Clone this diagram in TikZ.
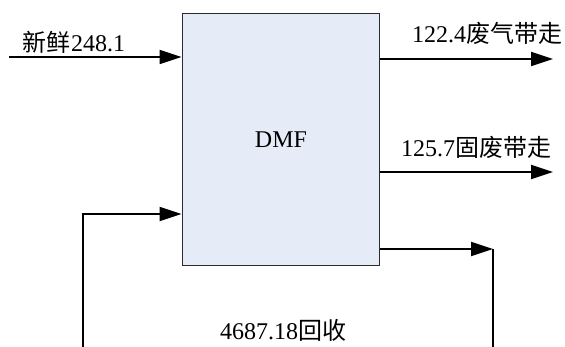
\documentclass[tikz,border=0pt]{standalone}
\usepackage{fontspec}
\setmainfont{Liberation Serif}
\newfontfamily\cjk{Noto Sans CJK SC}
\usetikzlibrary{arrows.meta,positioning}
\definecolor{boxfill}{HTML}{E6ECF7}
\definecolor{boxline}{HTML}{2B2B2B}

\tikzset{
  flow/.style={line width=1.8pt, -{Triangle[length=22pt,width=14pt]}},
  plain/.style={line width=1.8pt},
  lbl/.style={font=\fontsize{24}{28}\selectfont, inner sep=0pt},
}

\begin{document}
\begin{tikzpicture}[x=1pt, y=-1pt]
\useasboundingbox (0,0) rectangle (565,347);

% DMF unit
\node[draw=boxline, line width=1.8pt, fill=boxfill, minimum width=197pt,
  minimum height=252pt, inner sep=0pt, font=\fontsize{24}{28}\selectfont]
  (dmf) at (281,139.5) {DMF};

% stream end points
\coordinate (feed)      at (9,57);
\coordinate (gas)       at (553,59);
\coordinate (solid)     at (553,172);
\coordinate (loopout)   at (493,249);
\coordinate (loopin)    at (83,214);
\coordinate (loopdownR) at (493,347);
\coordinate (loopdownL) at (83,347);

% fresh feed in
\draw[flow] (feed) -- (feed -| dmf.west);

% streams out
\draw[flow] (gas -| dmf.east) -- (gas);
\draw[flow] (solid -| dmf.east) -- (solid);

% recycle loop
\draw[flow] (loopout -| dmf.east) -- (loopout);
\draw[plain] (loopout) -- (loopdownR);
\draw[flow] (loopdownL) |- (dmf.west |- loopin);

% labels
\node[lbl] (feedlbl)  at (74,42)   {{\cjk 新鲜}248.1};
\node[lbl] (gaslbl)   at (487,33)  {122.4{\cjk 废气带走}};
\node[lbl] (solidlbl) at (476,147) {125.7{\cjk 固废带走}};
\node[lbl] (looplbl)  at (283,330) {4687.18{\cjk 回收}};
\end{tikzpicture}
\end{document}
